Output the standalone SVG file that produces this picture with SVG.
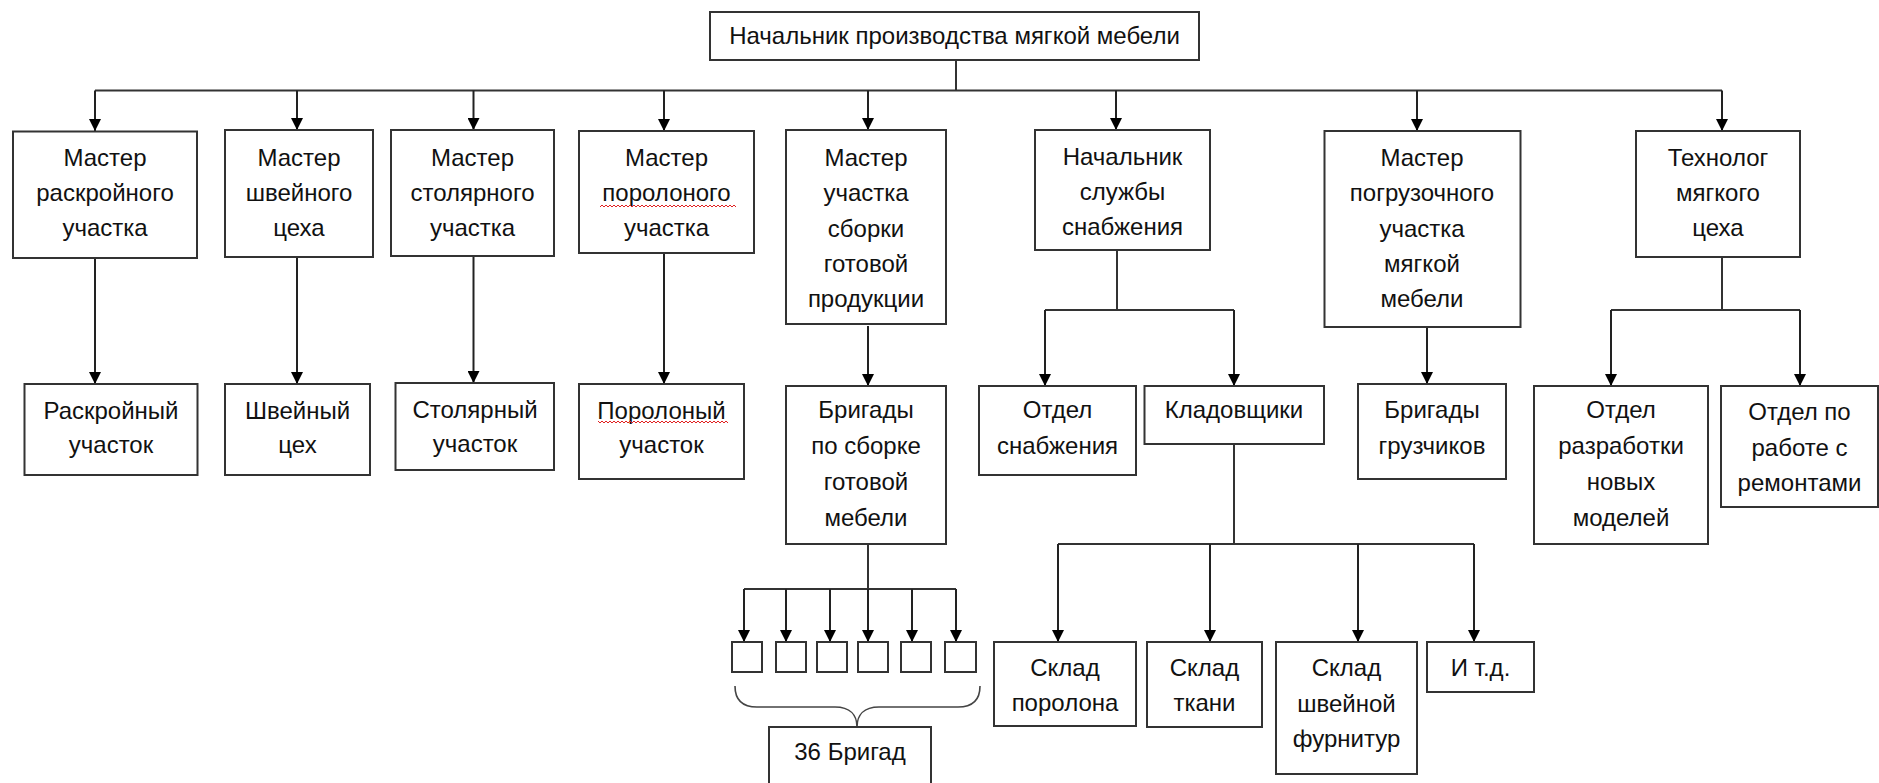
<svg xmlns="http://www.w3.org/2000/svg" width="1879" height="783" viewBox="0 0 1879 783">
<style>
  .box { fill: #ffffff; stroke: #333333; stroke-width: 2; }
  .t { font-family: "Liberation Sans", Arial, sans-serif; font-size: 24px; fill: #111111; text-anchor: middle; }
  .ln { fill: none; stroke: #333333; stroke-width: 2; }
  .arr { fill: none; stroke: #222222; stroke-width: 2; marker-end: url(#ah); }
  .brace { fill: none; stroke: #444444; stroke-width: 1.6; }
  .sq { fill: url(#wave); }
</style>
<defs>
  <marker id="ah" viewBox="0 0 12 12" refX="12" refY="6" markerWidth="12" markerHeight="12" markerUnits="userSpaceOnUse" orient="auto">
    <path d="M0,0 L12,6 L0,12 z" fill="#000000"/>
  </marker>
  <pattern id="wave" width="4" height="4" patternUnits="userSpaceOnUse">
    <path d="M0,3 L2,1 L4,3" fill="none" stroke="#e02020" stroke-width="1"/>
  </pattern>
</defs>
<rect width="1879" height="783" fill="#ffffff"/>

<g id="connectors">
  <!-- top level -->
  <path class="ln" d="M956,60 L956,90.5"/>
  <path class="ln" d="M95,90.5 L1722,90.5"/>
  <path class="arr" d="M95,90.5 L95,131"/>
  <path class="arr" d="M297,90.5 L297,130"/>
  <path class="arr" d="M473.5,90.5 L473.5,130"/>
  <path class="arr" d="M664,90.5 L664,131"/>
  <path class="arr" d="M868,90.5 L868,130"/>
  <path class="arr" d="M1116,90.5 L1116,130"/>
  <path class="arr" d="M1417,90.5 L1417,131"/>
  <path class="arr" d="M1722,90.5 L1722,131"/>
  <!-- second level -->
  <path class="arr" d="M95,258 L95,384"/>
  <path class="arr" d="M297,257 L297,384"/>
  <path class="arr" d="M473.5,256 L473.5,383"/>
  <path class="arr" d="M664,253 L664,384"/>
  <path class="arr" d="M868,326 L868,386"/>
  <path class="ln" d="M1117,250 L1117,310 M1045,310 L1234,310"/>
  <path class="arr" d="M1045,310 L1045,386"/>
  <path class="arr" d="M1234,310 L1234,386"/>
  <path class="arr" d="M1427,327 L1427,384"/>
  <path class="ln" d="M1722,257 L1722,310 M1611,310 L1800,310"/>
  <path class="arr" d="M1611,310 L1611,386"/>
  <path class="arr" d="M1800,310 L1800,386"/>
  <!-- storekeepers -->
  <path class="ln" d="M1234,444 L1234,544 M1058,544 L1474,544"/>
  <path class="arr" d="M1058,544 L1058,642"/>
  <path class="arr" d="M1210,544 L1210,642"/>
  <path class="arr" d="M1358,544 L1358,642"/>
  <path class="arr" d="M1474,544 L1474,642"/>
  <!-- brigades -->
  <path class="ln" d="M868,544 L868,589 M744,589 L956,589"/>
  <path class="arr" d="M744,589 L744,642"/>
  <path class="arr" d="M786,589 L786,642"/>
  <path class="arr" d="M830,589 L830,642"/>
  <path class="arr" d="M868,589 L868,642"/>
  <path class="arr" d="M912,589 L912,642"/>
  <path class="arr" d="M956,589 L956,642"/>
  <path class="brace" d="M735,686 C735,700 742,707 757,707 L835,707 C850,707 857,715 857,727 C857,715 864,707 879,707 L958,707 C973,707 980,700 980,686"/>
</g>

<g id="n-top">
  <rect class="box" x="710" y="12" width="489" height="48"/>
  <text class="t" x="954.5" y="44">Начальник производства мягкой мебели</text>
</g>

<g id="n-m1">
  <rect class="box" x="13" y="131.5" width="184" height="126.5"/>
  <text class="t" x="105" y="166">Мастер</text>
  <text class="t" x="105" y="201">раскройного</text>
  <text class="t" x="105" y="236">участка</text>
</g>
<g id="n-m2">
  <rect class="box" x="225" y="130" width="148" height="127"/>
  <text class="t" x="299" y="166">Мастер</text>
  <text class="t" x="299" y="201">швейного</text>
  <text class="t" x="299" y="236">цеха</text>
</g>
<g id="n-m3">
  <rect class="box" x="391" y="130" width="163" height="126"/>
  <text class="t" x="472.5" y="166">Мастер</text>
  <text class="t" x="472.5" y="201">столярного</text>
  <text class="t" x="472.5" y="236">участка</text>
</g>
<g id="n-m4">
  <rect class="box" x="579" y="131" width="175" height="122"/>
  <text class="t" x="666.5" y="166">Мастер</text>
  <text class="t" x="666.5" y="201">поролоного</text>
  <rect class="sq" x="600" y="204" width="136" height="4"/>
  <text class="t" x="666.5" y="236">участка</text>
</g>
<g id="n-m5">
  <rect class="box" x="786" y="130" width="160" height="194"/>
  <text class="t" x="866" y="166">Мастер</text>
  <text class="t" x="866" y="201">участка</text>
  <text class="t" x="866" y="236.5">сборки</text>
  <text class="t" x="866" y="272">готовой</text>
  <text class="t" x="866" y="307">продукции</text>
</g>
<g id="n-m6">
  <rect class="box" x="1035" y="130" width="175" height="120"/>
  <text class="t" x="1122.5" y="165">Начальник</text>
  <text class="t" x="1122.5" y="200">службы</text>
  <text class="t" x="1122.5" y="235">снабжения</text>
</g>
<g id="n-m7">
  <rect class="box" x="1324.5" y="131" width="196" height="196"/>
  <text class="t" x="1422" y="166">Мастер</text>
  <text class="t" x="1422" y="201">погрузочного</text>
  <text class="t" x="1422" y="236.5">участка</text>
  <text class="t" x="1422" y="272">мягкой</text>
  <text class="t" x="1422" y="307">мебели</text>
</g>
<g id="n-m8">
  <rect class="box" x="1636" y="131" width="164" height="126"/>
  <text class="t" x="1718" y="166">Технолог</text>
  <text class="t" x="1718" y="201">мягкого</text>
  <text class="t" x="1718" y="236">цеха</text>
</g>

<g id="n-u1">
  <rect class="box" x="24.5" y="384" width="173" height="91"/>
  <text class="t" x="111" y="418.5">Раскройный</text>
  <text class="t" x="111" y="453">участок</text>
</g>
<g id="n-u2">
  <rect class="box" x="225" y="384" width="145" height="91"/>
  <text class="t" x="297.5" y="418.5">Швейный</text>
  <text class="t" x="297.5" y="453">цех</text>
</g>
<g id="n-u3">
  <rect class="box" x="395.5" y="383" width="158.5" height="87"/>
  <text class="t" x="475" y="418">Столярный</text>
  <text class="t" x="475" y="452">участок</text>
</g>
<g id="n-u4">
  <rect class="box" x="579" y="384" width="165" height="95"/>
  <text class="t" x="661.5" y="418.5">Поролоный</text>
  <rect class="sq" x="598" y="421" width="130" height="4"/>
  <text class="t" x="661.5" y="453">участок</text>
</g>
<g id="n-u5">
  <rect class="box" x="786" y="386" width="160" height="158"/>
  <text class="t" x="866" y="418">Бригады</text>
  <text class="t" x="866" y="454">по сборке</text>
  <text class="t" x="866" y="490">готовой</text>
  <text class="t" x="866" y="526">мебели</text>
</g>
<g id="n-u6">
  <rect class="box" x="979" y="386" width="157" height="89"/>
  <text class="t" x="1057.5" y="418">Отдел</text>
  <text class="t" x="1057.5" y="454">снабжения</text>
</g>
<g id="n-u7">
  <rect class="box" x="1144.5" y="386" width="179.5" height="58"/>
  <text class="t" x="1234" y="418">Кладовщики</text>
</g>
<g id="n-u8">
  <rect class="box" x="1358" y="384" width="148" height="95"/>
  <text class="t" x="1432" y="418">Бригады</text>
  <text class="t" x="1432" y="454">грузчиков</text>
</g>
<g id="n-u9">
  <rect class="box" x="1534" y="386" width="174" height="158"/>
  <text class="t" x="1621" y="418">Отдел</text>
  <text class="t" x="1621" y="454">разработки</text>
  <text class="t" x="1621" y="490">новых</text>
  <text class="t" x="1621" y="526">моделей</text>
</g>
<g id="n-u10">
  <rect class="box" x="1721" y="386" width="157" height="121"/>
  <text class="t" x="1799.5" y="420">Отдел по</text>
  <text class="t" x="1799.5" y="455.5">работе с</text>
  <text class="t" x="1799.5" y="491">ремонтами</text>
</g>

<g id="n-b1"><rect class="box" x="732" y="642" width="30" height="30"/></g>
<g id="n-b2"><rect class="box" x="776" y="642" width="30" height="30"/></g>
<g id="n-b3"><rect class="box" x="817" y="642" width="30" height="30"/></g>
<g id="n-b4"><rect class="box" x="858" y="642" width="30" height="30"/></g>
<g id="n-b5"><rect class="box" x="901" y="642" width="30" height="30"/></g>
<g id="n-b6"><rect class="box" x="945" y="642" width="31" height="30"/></g>

<g id="n-36">
  <rect class="box" x="769" y="727" width="162" height="80"/>
  <text class="t" x="850" y="760">36 Бригад</text>
</g>

<g id="n-s1">
  <rect class="box" x="994" y="642" width="142" height="84"/>
  <text class="t" x="1065" y="676">Склад</text>
  <text class="t" x="1065" y="711">поролона</text>
</g>
<g id="n-s2">
  <rect class="box" x="1147" y="642" width="115" height="85"/>
  <text class="t" x="1204.5" y="676">Склад</text>
  <text class="t" x="1204.5" y="711">ткани</text>
</g>
<g id="n-s3">
  <rect class="box" x="1276" y="642" width="141" height="132"/>
  <text class="t" x="1346.5" y="676">Склад</text>
  <text class="t" x="1346.5" y="711.5">швейной</text>
  <text class="t" x="1346.5" y="747">фурнитур</text>
</g>
<g id="n-s4">
  <rect class="box" x="1427" y="642" width="107" height="50"/>
  <text class="t" x="1480.5" y="676">И т.д.</text>
</g>
</svg>
